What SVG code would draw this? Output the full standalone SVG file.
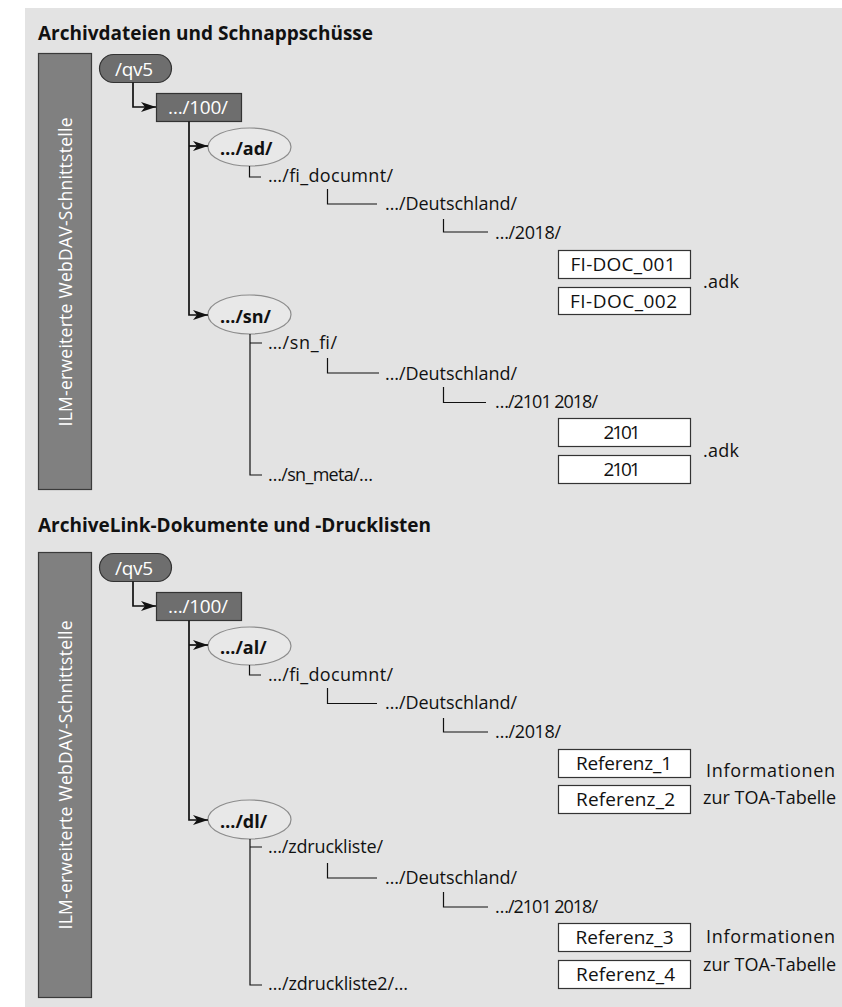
<svg xmlns="http://www.w3.org/2000/svg" width="842" height="1007" viewBox="0 0 842 1007">
<style>
text{font-family:"Open Sans","Noto Sans","Liberation Sans",sans-serif;fill:#111;}
.title{font-size:19px;font-weight:bold;}
.lbl{font-size:18px;}
.bold{font-size:18px;font-weight:bold;}
.wt{fill:#fff;font-size:19px;}
.vt{fill:#fff;font-size:17.5px;}
.bar{fill:#808080;stroke:#3a3a3a;stroke-width:1.2;}
.dark{fill:#6e6e6e;stroke:#333;stroke-width:1.2;}
.ell{fill:#e8e8e8;stroke:#8c8c8c;stroke-width:1.2;}
.file{fill:#fff;stroke:#333;stroke-width:1.2;}
.trunk{fill:none;stroke:#111;stroke-width:1.7;}
.elb{fill:none;stroke:#111;stroke-width:1.2;}
.ftxt{font-size:19px;text-anchor:middle;}
</style>
<defs>
<marker id="arr" markerUnits="userSpaceOnUse" viewBox="0 0 15 10" refX="15" refY="5" markerWidth="15" markerHeight="10" orient="auto">
<path d="M0,0 L15,5 L0,10 L4,5 z" fill="#111"/>
</marker>
</defs>
<rect x="25" y="8" width="817" height="999" fill="#e3e3e3"/>

<!-- Panel 1 -->
<text class="title" x="38" y="40" textLength="335" lengthAdjust="spacing">Archivdateien und Schnappschüsse</text>
<g id="bar1">
<rect class="bar" x="38.5" y="53.5" width="53" height="436"/>
<text class="vt" transform="translate(72,272) rotate(-90)" text-anchor="middle" textLength="309" lengthAdjust="spacing">ILM-erweiterte WebDAV-Schnittstelle</text>
</g>
<g id="qv5-1">
<rect class="dark" x="99.5" y="54.5" width="72" height="28" rx="14"/>
<text class="wt" x="115" y="75.5" textLength="38" lengthAdjust="spacing">/qv5</text>
</g>
<g id="n100-1">
<rect class="dark" x="156.5" y="93.5" width="85" height="28"/>
<text class="wt" x="168" y="114" textLength="60" lengthAdjust="spacing">…/100/</text>
</g>
<g id="ad">
<ellipse class="ell" cx="249.5" cy="147" rx="41.5" ry="19"/>
<text class="bold" x="220" y="155">…/ad/</text>
</g>
<g id="sn">
<ellipse class="ell" cx="249.5" cy="314.5" rx="41.5" ry="19.5"/>
<text class="bold" x="220" y="322.5">…/sn/</text>
</g>
<g id="fi1"><text class="lbl" x="268" y="182" textLength="125" lengthAdjust="spacing">…/fi_documnt/</text></g>
<g id="de1"><text class="lbl" x="385" y="210" textLength="132" lengthAdjust="spacing">…/Deutschland/</text></g>
<g id="y2018-1"><text class="lbl" x="495" y="239" textLength="66" lengthAdjust="spacing">…/2018/</text></g>
<g id="fidoc1"><rect class="file" x="558.5" y="250.5" width="132" height="28"/><text class="ftxt" x="623" y="271" textLength="105" lengthAdjust="spacing">FI-DOC_001</text></g>
<g id="fidoc2"><rect class="file" x="558.5" y="287.5" width="132" height="27"/><text class="ftxt" x="623.5" y="307.5" textLength="107" lengthAdjust="spacing">FI-DOC_002</text></g>
<g id="adk1"><text class="lbl" x="703" y="288" textLength="36" lengthAdjust="spacing">.adk</text></g>
<g id="snfi"><text class="lbl" x="268" y="349" textLength="69" lengthAdjust="spacing">…/sn_fi/</text></g>
<g id="de2"><text class="lbl" x="385" y="380" textLength="132" lengthAdjust="spacing">…/Deutschland/</text></g>
<g id="y21-1"><text class="lbl" x="495" y="408" textLength="103" lengthAdjust="spacing">…/2101 2018/</text></g>
<g id="f2101a"><rect class="file" x="558.5" y="418.5" width="132" height="28"/><text class="ftxt" x="622" y="439" textLength="37" lengthAdjust="spacing">2101</text></g>
<g id="f2101b"><rect class="file" x="558.5" y="455.5" width="132" height="28"/><text class="ftxt" x="622" y="476" textLength="37" lengthAdjust="spacing">2101</text></g>
<g id="adk2"><text class="lbl" x="703" y="457" textLength="36" lengthAdjust="spacing">.adk</text></g>
<g id="snmeta"><text class="lbl" x="268" y="481" textLength="105" lengthAdjust="spacing">…/sn_meta/…</text></g>

<!-- Panel 2 -->
<text class="title" x="38" y="532" textLength="393" lengthAdjust="spacing">ArchiveLink-Dokumente und -Drucklisten</text>
<g id="bar2">
<rect class="bar" x="38.5" y="552.5" width="53" height="445"/>
<text class="vt" transform="translate(72,775) rotate(-90)" text-anchor="middle" textLength="309" lengthAdjust="spacing">ILM-erweiterte WebDAV-Schnittstelle</text>
</g>
<g id="qv5-2">
<rect class="dark" x="99.5" y="553.5" width="72" height="28" rx="14"/>
<text class="wt" x="115" y="574.5" textLength="38" lengthAdjust="spacing">/qv5</text>
</g>
<g id="n100-2">
<rect class="dark" x="156.5" y="592.5" width="85" height="28"/>
<text class="wt" x="168" y="613" textLength="60" lengthAdjust="spacing">…/100/</text>
</g>
<g id="al">
<ellipse class="ell" cx="249.5" cy="646" rx="41.5" ry="19"/>
<text class="bold" x="220" y="654">…/al/</text>
</g>
<g id="dl">
<ellipse class="ell" cx="249.5" cy="819.5" rx="41.5" ry="19.5"/>
<text class="bold" x="220" y="827.5">…/dl/</text>
</g>
<g id="fi2"><text class="lbl" x="268" y="681" textLength="125" lengthAdjust="spacing">…/fi_documnt/</text></g>
<g id="de3"><text class="lbl" x="385" y="709" textLength="132" lengthAdjust="spacing">…/Deutschland/</text></g>
<g id="y2018-2"><text class="lbl" x="495" y="738" textLength="66" lengthAdjust="spacing">…/2018/</text></g>
<g id="ref1"><rect class="file" x="558.5" y="749.5" width="132" height="28"/><text class="ftxt" x="624" y="770" textLength="96" lengthAdjust="spacing">Referenz_1</text></g>
<g id="ref2"><rect class="file" x="558.5" y="785.5" width="132" height="28"/><text class="ftxt" x="625.5" y="806" textLength="99" lengthAdjust="spacing">Referenz_2</text></g>
<g id="info1"><text class="lbl" x="706" y="777" textLength="129" lengthAdjust="spacing">Informationen</text><text class="lbl" x="703" y="804" textLength="133" lengthAdjust="spacing">zur TOA-Tabelle</text></g>
<g id="zdl"><text class="lbl" x="268" y="853" textLength="115" lengthAdjust="spacing">…/zdruckliste/</text></g>
<g id="de4"><text class="lbl" x="385" y="884" textLength="132" lengthAdjust="spacing">…/Deutschland/</text></g>
<g id="y21-2"><text class="lbl" x="495" y="913" textLength="103" lengthAdjust="spacing">…/2101 2018/</text></g>
<g id="ref3"><rect class="file" x="558.5" y="923.5" width="132" height="28"/><text class="ftxt" x="624.5" y="944" textLength="98" lengthAdjust="spacing">Referenz_3</text></g>
<g id="ref4"><rect class="file" x="558.5" y="960.5" width="132" height="28"/><text class="ftxt" x="625.5" y="981" textLength="99" lengthAdjust="spacing">Referenz_4</text></g>
<g id="info2"><text class="lbl" x="706" y="943" textLength="129" lengthAdjust="spacing">Informationen</text><text class="lbl" x="703" y="971" textLength="133" lengthAdjust="spacing">zur TOA-Tabelle</text></g>
<g id="zdl2"><text class="lbl" x="268" y="990" textLength="140" lengthAdjust="spacing">…/zdruckliste2/…</text></g>

<g id="connectors">
<path class="trunk" d="M133,82.5 V107 H156" marker-end="url(#arr)"/>
<path class="trunk" d="M189,121.5 V315 H208" marker-end="url(#arr)"/>
<path class="trunk" d="M189,146 H208" marker-end="url(#arr)"/>
<path class="elb" d="M249.5,166 V177 H261"/>
<path class="elb" d="M327.5,189 V204 H377"/>
<path class="elb" d="M443.5,219 V232 H488"/>
<path class="elb" d="M250,334 V475 H262 M250,343 H262"/>
<path class="elb" d="M327.5,358 V373 H379"/>
<path class="elb" d="M443.5,387 V402.5 H486"/>

<path class="trunk" d="M133,581.5 V606 H156" marker-end="url(#arr)"/>
<path class="trunk" d="M189,620.5 V820 H208" marker-end="url(#arr)"/>
<path class="trunk" d="M189,645 H208" marker-end="url(#arr)"/>
<path class="elb" d="M249.5,665 V675 H261"/>
<path class="elb" d="M327.5,688 V703.5 H377"/>
<path class="elb" d="M443.5,718 V732 H488"/>
<path class="elb" d="M250,839 V985 H262 M250,847 H262"/>
<path class="elb" d="M327.5,863 V878 H377"/>
<path class="elb" d="M443.5,892 V907 H488"/>
</g>
</svg>
